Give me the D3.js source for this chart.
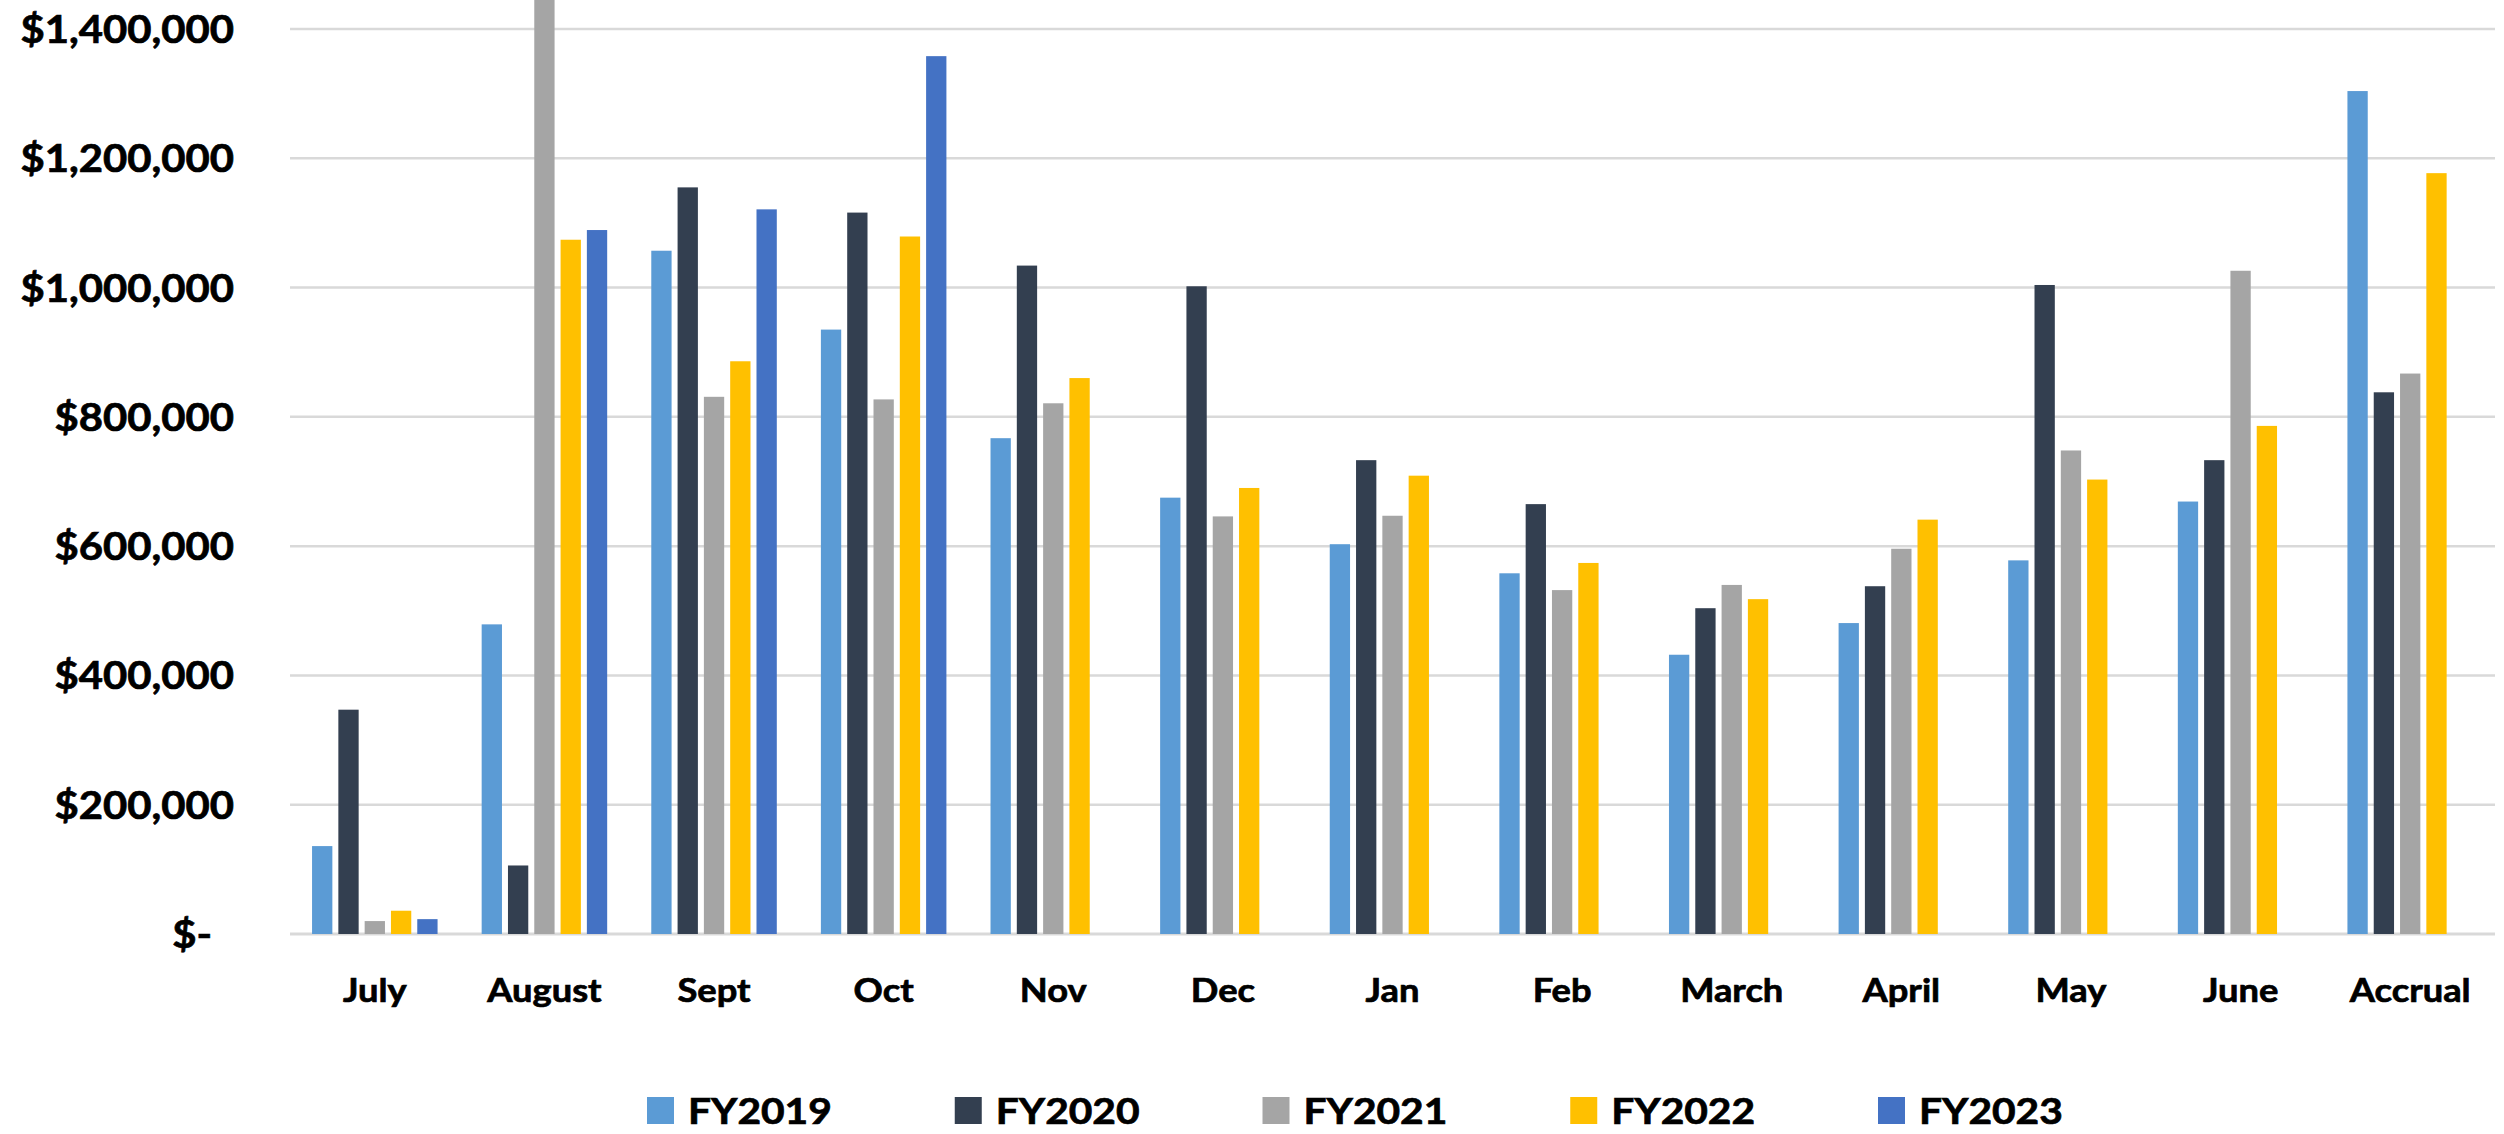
<!DOCTYPE html>
<html>
<head>
<meta charset="utf-8">
<script src="https://cdn.jsdelivr.net/npm/d3@7"></script>
<style>
  html, body { margin: 0; padding: 0; background: #fff; overflow: hidden; }
  text { font-family: Lato, "Open Sans", sans-serif; font-weight: 700; fill: #000; stroke: #000; stroke-width: 0.7px; }
</style>
</head>
<body>
<div id="chart"></div>
<script>
const months = ['July', 'August', 'Sept', 'Oct', 'Nov', 'Dec', 'Jan', 'Feb', 'March', 'April', 'May', 'June', 'Accrual'];
const seriesNames = ['FY2019', 'FY2020', 'FY2021', 'FY2022', 'FY2023'];
const seriesColors = ['#5B9BD5', '#333F50', '#A5A5A5', '#FFC000', '#4472C4'];

// values per fiscal year, in month order (null = no bar)
const fy2019 = [136000, 479000, 1057000, 935000, 767000, 675000, 603000, 558000, 432000, 481000, 578000, 669000, 1304000];
const fy2020 = [347000, 106000, 1155000, 1116000, 1034000, 1002000, 733000, 665000, 504000, 538000, 1004000, 733000, 838000];
const fy2021 = [20000, 1480000, 831000, 827000, 821000, 646000, 647000, 532000, 540000, 596000, 748000, 1026000, 867000];
const fy2022 = [36000, 1074000, 886000, 1079000, 860000, 690000, 709000, 574000, 518000, 641000, 703000, 786000, 1177000];
const fy2023 = [23000, 1089000, 1121000, 1358000, null, null, null, null, null, null, null, null, null];

const yTicks = [0, 200000, 400000, 600000, 800000, 1000000, 1200000, 1400000];

const allSeries = [fy2019, fy2020, fy2021, fy2022, fy2023];

const width = 2504, height = 1134;
const plot = { left: 290, right: 2495, top: 29, bottom: 934 };
const stretch = 1.1; // text in the source is widened horizontally

const svg = d3.select('#chart')
    .append('svg')
    .attr('width', width)
    .attr('height', height);

const x0 = d3.scaleBand()
    .domain(months)
    .range([plot.left, plot.right])
    .paddingInner(0.26)
    .paddingOuter(0.13);

const x1 = d3.scaleBand()
    .domain(seriesNames)
    .range([0, x0.bandwidth()])
    .paddingInner(0.228);

const y = d3.scaleLinear()
    .domain([0, 1400000])
    .range([plot.bottom, plot.top]);

const fmt = d3.format(',');

// gridlines
svg.append('g')
    .selectAll('line')
    .data(yTicks)
    .enter().append('line')
    .attr('x1', plot.left)
    .attr('x2', plot.right)
    .attr('y1', d => y(d))
    .attr('y2', d => y(d))
    .attr('stroke', '#d9d9d9')
    .attr('stroke-width', d => d === 0 ? 3 : 2.5);

// y labels
svg.append('g')
    .selectAll('text')
    .data(yTicks)
    .enter().append('text')
    .attr('transform', d => `translate(${d === 0 ? 212 : 234},${y(d) + 14}) scale(${stretch},1)`)
    .attr('text-anchor', 'end')
    .attr('font-size', 38)
    .text(d => d === 0 ? '$-' : '$' + fmt(d));

// bars
const groups = svg.append('g')
    .selectAll('g')
    .data(months)
    .enter().append('g')
    .attr('transform', d => `translate(${x0(d)},0)`);

groups.selectAll('rect')
    .data((m, i) => seriesNames.map((s, j) => ({ s, j, v: allSeries[j][i] })).filter(d => d.v != null))
    .enter().append('rect')
    .attr('x', d => x1(d.s))
    .attr('width', x1.bandwidth())
    .attr('y', d => y(d.v))
    .attr('height', d => y(0) - y(d.v))
    .attr('fill', d => seriesColors[d.j]);

// category labels
svg.append('g')
    .selectAll('text')
    .data(months)
    .enter().append('text')
    .attr('transform', d => `translate(${x0(d) + x0.bandwidth() / 2},1002) scale(${stretch},1)`)
    .attr('text-anchor', 'middle')
    .attr('font-size', 33)
    .text(d => d);

// legend
const lx = d3.scalePoint().domain(seriesNames).range([647, 1878]);
const legend = svg.append('g')
    .selectAll('g')
    .data(seriesNames)
    .enter().append('g')
    .attr('transform', d => `translate(${lx(d)},1097)`);

legend.append('rect')
    .attr('width', 27)
    .attr('height', 27)
    .attr('fill', (d, i) => seriesColors[i]);

legend.append('text')
    .attr('transform', `translate(41,27) scale(${stretch},1)`)
    .attr('font-size', 37)
    .text(d => d);
</script>
</body>
</html>
